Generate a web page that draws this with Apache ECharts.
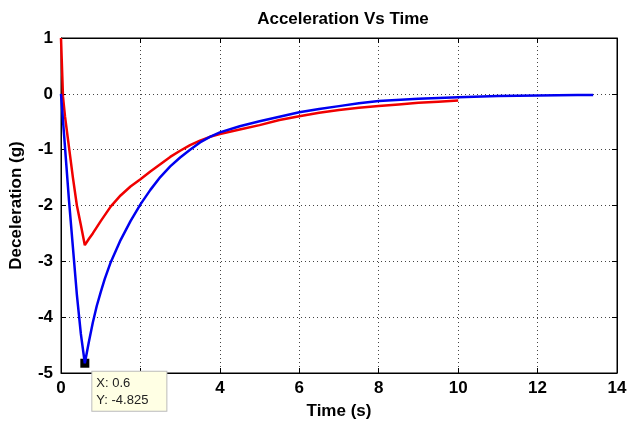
<!DOCTYPE html>
<html>
<head>
<meta charset="utf-8">
<script src="https://cdn.jsdelivr.net/npm/echarts@6/dist/echarts.min.js"></script>
<style>
  html, body { margin: 0; padding: 0; background: #fff; }
  #chart { width: 631px; height: 425px; }
</style>
</head>
<body>
<div id="chart"></div>
<script>
// Blue trace: time (s) and deceleration (g)
const blueTime = [0, 0.1, 0.2, 0.3, 0.4, 0.5, 0.6, 0.7, 0.8, 0.9, 1.0, 1.1, 1.25, 1.5, 1.75, 2.0, 2.25, 2.5, 2.75, 3.0, 3.25, 3.5, 3.75, 4.0, 4.5, 5, 5.5, 6, 6.5, 7, 7.5, 8, 9, 10, 11, 12, 13, 13.4];
const blueAccel = [0, -0.95, -1.9, -2.75, -3.6, -4.3, -4.825, -4.45, -4.1, -3.8, -3.55, -3.32, -3.02, -2.62, -2.28, -1.98, -1.72, -1.49, -1.3, -1.14, -1.0, -0.87, -0.77, -0.69, -0.58, -0.49, -0.41, -0.33, -0.27, -0.22, -0.17, -0.13, -0.09, -0.06, -0.04, -0.03, -0.02, -0.02];

// Red trace: time (s) and deceleration (g)
const redTime = [0, 0.05, 0.1, 0.2, 0.3, 0.4, 0.5, 0.6, 0.7, 0.8, 1.0, 1.25, 1.5, 1.75, 2.0, 2.25, 2.5, 2.75, 3.0, 3.25, 3.5, 3.75, 4.0, 4.5, 5, 5.5, 6, 6.5, 7, 7.5, 8, 8.5, 9, 9.5, 10];
const redAccel = [1, -0.05, -0.4, -0.95, -1.5, -2.0, -2.35, -2.71, -2.6, -2.5, -2.28, -2.02, -1.82, -1.66, -1.53, -1.39, -1.26, -1.13, -1.02, -0.92, -0.84, -0.77, -0.72, -0.64, -0.56, -0.47, -0.4, -0.34, -0.29, -0.25, -0.22, -0.19, -0.16, -0.14, -0.12];

// Axis ticks
const xTicks = [0, 2, 4, 6, 8, 10, 12, 14];
const yTicks = [-5, -4, -3, -2, -1, 0, 1];

// Data tip sits on the blue trace's lowest sample
const tipIndex = blueAccel.indexOf(Math.min(...blueAccel));
const tipX = blueTime[tipIndex];
const tipY = blueAccel[tipIndex];

const FONT = '"Liberation Sans", Arial, Helvetica, sans-serif';

const toPairs = (t, v) => t.map((x, i) => [x, v[i]]);

const gridLine = { show: true, lineStyle: { color: '#444', type: [1, 3], width: 1 } };
const innerTick = { show: true, inside: true, length: 5, lineStyle: { color: '#000' } };
const frameLine = { show: true, onZero: false, lineStyle: { color: '#000' } };

const chart = echarts.init(document.getElementById('chart'), null, { renderer: 'canvas' });
chart.setOption({
  animation: false,
  backgroundColor: '#fff',
  title: {
    text: 'Acceleration Vs Time',
    left: 338, top: 6, textAlign: 'center',
    textStyle: { fontFamily: FONT, fontWeight: 'bold', fontSize: 17, color: '#000' }
  },
  grid: { left: 60, right: 14, top: 38, bottom: 51, show: true, borderColor: '#000', borderWidth: 1, backgroundColor: '#fff' },
  xAxis: [{
    type: 'value', min: xTicks[0], max: xTicks[xTicks.length - 1], interval: 2,
    name: 'Time (s)', nameLocation: 'middle', nameGap: 30,
    nameTextStyle: { fontFamily: FONT, fontWeight: 'bold', fontSize: 17, color: '#000' },
    axisLine: frameLine,
    axisTick: innerTick,
    axisLabel: { fontFamily: FONT, fontWeight: 'bold', fontSize: 17, color: '#000', margin: 7 },
    splitLine: gridLine
  }, {
    type: 'value', position: 'top', min: xTicks[0], max: xTicks[xTicks.length - 1], interval: 2,
    axisLine: frameLine,
    axisTick: innerTick, axisLabel: { show: false }, splitLine: { show: false }
  }],
  yAxis: [{
    type: 'value', min: yTicks[0], max: yTicks[yTicks.length - 1], interval: 1,
    name: 'Deceleration (g)', nameLocation: 'middle', nameGap: 36, nameRotate: 90,
    nameTextStyle: { fontFamily: FONT, fontWeight: 'bold', fontSize: 17, color: '#000' },
    axisLine: frameLine,
    axisTick: innerTick,
    axisLabel: { fontFamily: FONT, fontWeight: 'bold', fontSize: 17, color: '#000', margin: 8 },
    splitLine: gridLine
  }, {
    type: 'value', position: 'right', min: yTicks[0], max: yTicks[yTicks.length - 1], interval: 1,
    axisLine: frameLine,
    axisTick: innerTick, axisLabel: { show: false }, splitLine: { show: false }
  }],
  series: [{
    name: 'Red', type: 'line', data: toPairs(redTime, redAccel),
    showSymbol: false, symbol: 'none',
    lineStyle: { color: '#f00000', width: 2.5 }, z: 3
  }, {
    name: 'Blue', type: 'line', data: toPairs(blueTime, blueAccel),
    showSymbol: false, symbol: 'none', zlevel: 1,
    lineStyle: { color: '#0000f0', width: 2.5 }, z: 4,
    markPoint: {
      symbol: 'rect', symbolSize: 9,
      itemStyle: { color: '#000' },
      data: [{ coord: [tipX, tipY] }],
      label: {
        show: true,
        position: [12, 13],
        formatter: () => 'X: ' + tipX + '\nY: ' + tipY,
        fontFamily: FONT,
        fontSize: 13, color: '#222', lineHeight: 17, align: 'left', verticalAlign: 'top',
        backgroundColor: '#ffffe4', borderColor: '#bbb', borderWidth: 1,
        padding: [3, 18, 2, 4]
      }
    }
  }]
});
</script>
</body>
</html>
